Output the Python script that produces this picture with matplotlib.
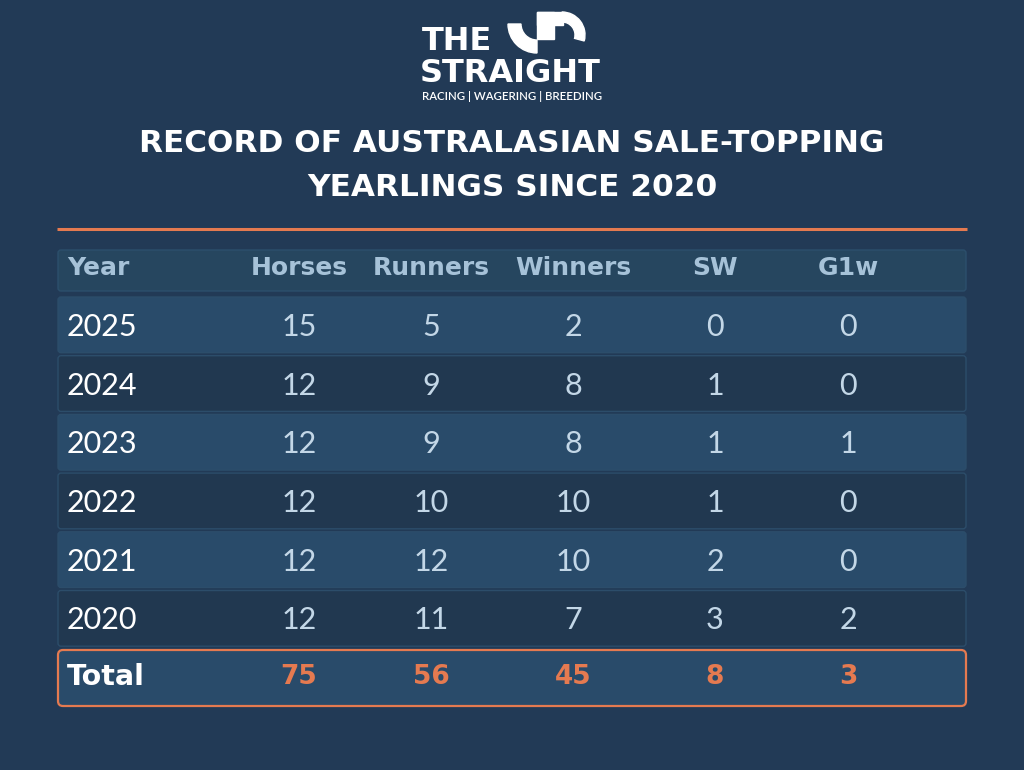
import matplotlib.pyplot as plt
from matplotlib.patches import FancyBboxPatch, Rectangle, Wedge

# table data
columns = ['Year', 'Horses', 'Runners', 'Winners', 'SW', 'G1w']
years = ['2025', '2024', '2023', '2022', '2021', '2020']
horses = [15, 12, 12, 12, 12, 12]
runners = [5, 9, 9, 10, 12, 11]
winners = [2, 8, 8, 10, 10, 7]
sw = [0, 1, 1, 1, 2, 3]
g1w = [0, 0, 1, 0, 0, 2]
totals = [sum(horses), sum(runners), sum(winners), sum(sw), sum(g1w)]

bg = '#223a56'
light_row = '#294b6a'
dark_row = '#213850'
head_text = '#a6c2d8'
num_text = '#c3d7e7'
orange = '#e57a50'
bold_font = 'DejaVu Sans'

fig = plt.figure(figsize=(10.24, 7.7), dpi=100, facecolor=bg)
ax = fig.add_axes([0, 0, 1, 1])
ax.set_xlim(0, 1024)
ax.set_ylim(770, 0)
ax.axis('off')
ax.set_facecolor(bg)

# logo
ax.text(422, 42, 'THE', color='white', fontsize=23, fontweight='bold',
        family=bold_font, va='center', ha='left')
ax.text(420, 73, 'STRAIGHT', color='white', fontsize=23, fontweight='bold',
        family=bold_font, va='center', ha='left')
ax.text(512, 97, 'RACING | WAGERING | BREEDING', color='white', fontsize=8.2,
        family='Lato', fontweight='semibold', va='center', ha='center')
ax.add_patch(Wedge((537, 24), 29, 90, 180, width=13, color='white'))
ax.add_patch(Rectangle((537, 12), 26, 13, color='white'))
ax.add_patch(Rectangle((537, 12), 17, 27, color='white'))
ax.add_patch(Wedge((562, 35), 23, 270, 375, width=10, color='white'))

# title
ax.text(512, 143, 'RECORD OF AUSTRALASIAN SALE-TOPPING', color='white',
        fontsize=22.4, fontweight='bold', family=bold_font, ha='center', va='center')
ax.text(512, 187, 'YEARLINGS SINCE 2020', color='white',
        fontsize=22.4, fontweight='bold', family=bold_font, ha='center', va='center')
ax.plot([57, 967], [229, 229], color=orange, lw=2.2, solid_capstyle='butt')

col_x = [67, 299, 431, 573, 715, 848]
left, right = 58, 966

# header row
ax.add_patch(FancyBboxPatch((left, 250), right - left, 41,
             boxstyle='round,pad=0,rounding_size=3', fc='#26465f', ec='#2c4f6c', lw=1))
for i, c in enumerate(columns):
    ax.text(col_x[i], 268, c, color=head_text, fontsize=18, fontweight='bold',
            family=bold_font, ha='left' if i == 0 else 'center', va='center')

# data rows
row_h = 58.7
for r in range(len(years)):
    top = 297 + r * row_h
    fc = light_row if r % 2 == 0 else dark_row
    ax.add_patch(FancyBboxPatch((left, top), right - left, row_h - 3,
                 boxstyle='round,pad=0,rounding_size=3', fc=fc, ec='#2c4d6a', lw=1))
    cy = top + (row_h - 3) / 2 + 2
    vals = [horses[r], runners[r], winners[r], sw[r], g1w[r]]
    ax.text(col_x[0], cy, years[r], color='white', fontsize=22,
            family='Lato', ha='left', va='center')
    for j, v in enumerate(vals):
        ax.text(col_x[j + 1], cy, str(v), color=num_text, fontsize=22,
                family='Lato', ha='center', va='center')

# total row
ax.add_patch(FancyBboxPatch((left, 650), right - left, 56,
             boxstyle='round,pad=0,rounding_size=5', fc=light_row, ec=orange, lw=1.6))
ax.text(col_x[0], 677, 'Total', color='white', fontsize=20.5, fontweight='bold',
        family=bold_font, ha='left', va='center')
for j, v in enumerate(totals):
    ax.text(col_x[j + 1], 677, str(v), color=orange, fontsize=19, fontweight='bold',
            family=bold_font, ha='center', va='center')

fig.savefig('out.png', dpi=100, facecolor=bg)
